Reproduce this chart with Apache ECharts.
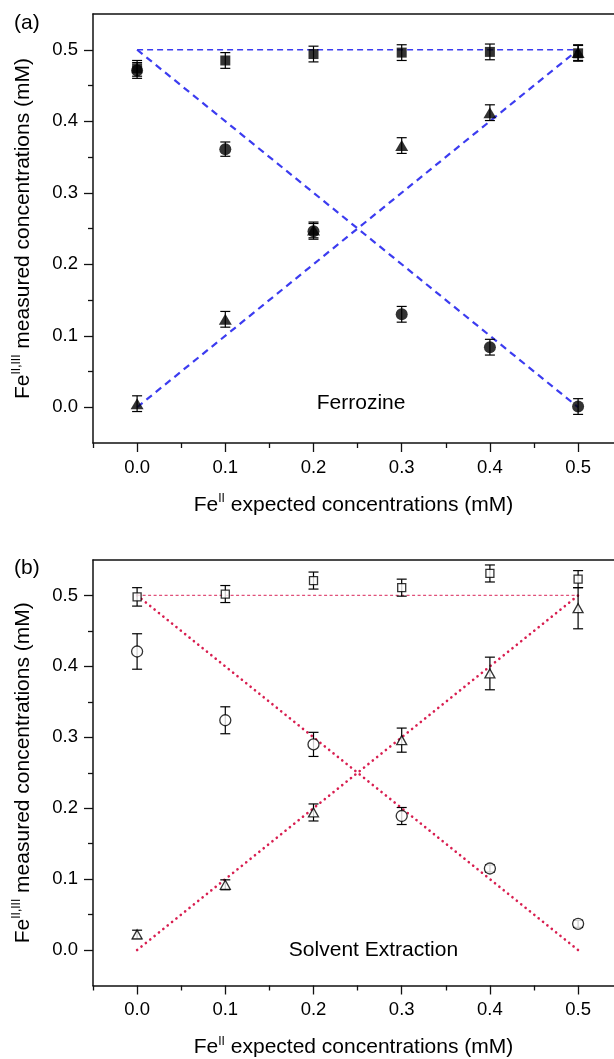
<!DOCTYPE html>
<html>
<head>
<meta charset="utf-8">
<script src="https://cdn.jsdelivr.net/npm/echarts@6/dist/echarts.min.js"></script>
<style>
html, body { margin: 0; padding: 0; background: #fff; }
#chart { width: 614px; height: 1059px; }
</style>
</head>
<body>
<div id="chart"></div>
<script>
// Fe(II) expected concentrations (mM)
var xVals = [0, 0.1, 0.2, 0.3, 0.4, 0.5];

// (a) Ferrozine - filled symbols
var ferroTotal = [0.474, 0.485, 0.494, 0.496, 0.497, 0.495];
var ferroTotalErr = [0.011, 0.011, 0.011, 0.011, 0.011, 0.011];
var ferroFe3 = [0.471, 0.361, 0.246, 0.130, 0.084, 0.001];
var ferroFe3Err = [0.011, 0.010, 0.011, 0.011, 0.011, 0.011];
var ferroFe2 = [0.005, 0.123, 0.248, 0.366, 0.412, 0.496];
var ferroFe2Err = [0.011, 0.011, 0.011, 0.011, 0.011, 0.011];

// (b) Solvent extraction - open symbols
var solvTotal = [0.498, 0.502, 0.521, 0.511, 0.531, 0.523];
var solvTotalErr = [0.013, 0.012, 0.012, 0.012, 0.012, 0.012];
var solvFe3 = [0.421, 0.324, 0.290, 0.189, 0.115, 0.037];
var solvFe3Err = [0.025, 0.019, 0.017, 0.012, 0.005, 0.005];
var solvFe2 = [0.022, 0.092, 0.194, 0.296, 0.390, 0.482];
var solvFe2Err = [0.006, 0.007, 0.012, 0.017, 0.023, 0.029];

// ideal lines
var idealTotal = [[0, 0.5], [0.5, 0.5]];
var idealFe3 = [[0, 0.5], [0.5, 0]];
var idealFe2 = [[0, 0], [0.5, 0.5]];

// tick values
var majorTicks = [0, 0.1, 0.2, 0.3, 0.4, 0.5];
var minorTicksX = [-0.05, 0.05, 0.15, 0.25, 0.35, 0.45];
var minorTicksY = [0.05, 0.15, 0.25, 0.35, 0.45];

var font = '"Liberation Sans", Arial, sans-serif';
var xMax = -0.05 + (614 - 93) / 882;

function pairs(xs, ys) {
    return xs.map(function (x, i) { return [x, ys[i]]; });
}
function errData(xs, ys, es) {
    return xs.map(function (x, i) { return [x, ys[i] - es[i], ys[i] + es[i]]; });
}
function renderErr(params, api) {
    var lo = api.coord([api.value(0), api.value(1)]);
    var hi = api.coord([api.value(0), api.value(2)]);
    var w = 5;
    var st = { stroke: '#000', lineWidth: 1.2 };
    return {
        type: 'group',
        children: [
            { type: 'line', shape: { x1: lo[0], y1: lo[1], x2: hi[0], y2: hi[1] }, style: st },
            { type: 'line', shape: { x1: lo[0] - w, y1: lo[1], x2: lo[0] + w, y2: lo[1] }, style: st },
            { type: 'line', shape: { x1: hi[0] - w, y1: hi[1], x2: hi[0] + w, y2: hi[1] }, style: st }
        ]
    };
}

var richName = {
    b: { fontSize: 21, fontFamily: font, color: '#000', lineHeight: 24, verticalAlign: 'middle' },
    s: { fontSize: 12, fontFamily: font, color: '#000', lineHeight: 13, verticalAlign: 'top' }
};
var axisLine = { onZero: false, lineStyle: { color: '#111', width: 1.5 } };
var tickStyle = { color: '#111', width: 1.3 };
var labelStyle = { fontSize: 18.5, fontFamily: font, color: '#000',
    formatter: function (v) { return v.toFixed(1); } };

function xAxisFor(gi) {
    return {
        gridIndex: gi, type: 'value', min: -0.05, max: xMax,
        name: '{b|Fe}{s|II}{b| expected concentrations (mM)}',
        nameLocation: 'middle', nameGap: 50,
        nameTextStyle: { rich: richName },
        axisLine: axisLine,
        axisTick: { show: true, length: 9, lineStyle: tickStyle, customValues: majorTicks },
        axisLabel: Object.assign({ margin: 15, customValues: majorTicks }, labelStyle),
        splitLine: { show: false }
    };
}
function xMinorFor(gi) {
    return {
        gridIndex: gi, type: 'value', position: 'bottom', min: -0.05, max: xMax,
        axisLine: { show: false, onZero: false },
        axisTick: { show: true, length: 5, lineStyle: tickStyle, customValues: minorTicksX },
        axisLabel: { show: false }, splitLine: { show: false }
    };
}
function topAxisFor(gi) {
    return {
        gridIndex: gi, type: 'value', position: 'top', min: -0.05, max: xMax,
        axisLine: axisLine, axisTick: { show: false }, axisLabel: { show: false },
        splitLine: { show: false }
    };
}
function yAxisFor(gi) {
    return {
        gridIndex: gi, type: 'value', position: 'left', min: -0.05, max: 0.55,
        name: '{b|Fe}{s|II,III}{b| measured concentrations (mM)}',
        nameLocation: 'middle', nameGap: 58, nameRotate: 90,
        nameTextStyle: { rich: richName },
        axisLine: axisLine,
        axisTick: { show: true, length: 9, lineStyle: tickStyle, customValues: majorTicks },
        axisLabel: Object.assign({ margin: 15, customValues: majorTicks }, labelStyle),
        splitLine: { show: false }
    };
}
function yMinorFor(gi) {
    return {
        gridIndex: gi, type: 'value', position: 'left', min: -0.05, max: 0.55,
        axisLine: { show: false, onZero: false },
        axisTick: { show: true, length: 5, lineStyle: tickStyle, customValues: minorTicksY },
        axisLabel: { show: false }, splitLine: { show: false }
    };
}
function refLine(gi, data, style) {
    return {
        type: 'line', xAxisIndex: gi * 3, yAxisIndex: gi * 2, data: data,
        symbol: 'none', silent: true, z: 2, lineStyle: style
    };
}
function errSeries(gi, ys, es) {
    return {
        type: 'custom', xAxisIndex: gi * 3, yAxisIndex: gi * 2, renderItem: renderErr,
        encode: { x: 0, y: [1, 2] }, data: errData(xVals, ys, es), z: 3, silent: true
    };
}
function dots(gi, ys, symbol, size, open) {
    return {
        type: 'scatter', xAxisIndex: gi * 3, yAxisIndex: gi * 2, data: pairs(xVals, ys),
        symbol: symbol, symbolSize: size, z: 5, silent: true,
        itemStyle: open ? { color: '#fff', borderColor: '#000', borderWidth: 1.3 } : { color: '#000' }
    };
}

var blueDash = { color: '#3c3cf0', width: 2.2, type: [7, 5] };
var blueThin = { color: '#3c3cf0', width: 1.6, type: [6, 4] };
var redDot = { color: '#d81e50', width: 2.6, type: [0.1, 5.5], cap: 'round' };
var redThin = { color: '#e0507a', width: 1.2, type: [3, 2.5] };

var chart = echarts.init(document.getElementById('chart'));
chart.setOption({
    animation: false,
    backgroundColor: '#fff',
    grid: [
        { left: 93, top: 14, right: 0, height: 429 },
        { left: 93, top: 560, right: 0, height: 430 }
    ],
    xAxis: [xAxisFor(0), xMinorFor(0), topAxisFor(0), xAxisFor(1), xMinorFor(1), topAxisFor(1)],
    yAxis: [yAxisFor(0), yMinorFor(0), yAxisFor(1), yMinorFor(1)],
    series: [
        refLine(0, idealTotal, blueThin),
        refLine(0, idealFe3, blueDash),
        refLine(0, idealFe2, blueDash),
        errSeries(0, ferroTotal, ferroTotalErr),
        errSeries(0, ferroFe3, ferroFe3Err),
        errSeries(0, ferroFe2, ferroFe2Err),
        dots(0, ferroTotal, 'rect', 10, false),
        dots(0, ferroFe3, 'circle', 12, false),
        dots(0, ferroFe2, 'triangle', [13, 11], false),

        refLine(1, idealTotal, redThin),
        refLine(1, idealFe3, redDot),
        refLine(1, idealFe2, redDot),
        errSeries(1, solvTotal, solvTotalErr),
        errSeries(1, solvFe3, solvFe3Err),
        errSeries(1, solvFe2, solvFe2Err),
        dots(1, solvTotal, 'rect', 8, true),
        dots(1, solvFe3, 'circle', 11, true),
        dots(1, solvFe2, 'triangle', [10, 9], true)
    ]
});

// panel labels
var pA = chart.convertToPixel({ gridIndex: 0 }, [0.254, 0.005]);
var pB = chart.convertToPixel({ gridIndex: 1 }, [0.268, 0.0]);
var txt = { fontSize: 21, fontFamily: font, fill: '#000' };
chart.setOption({
    graphic: [
        { type: 'text', left: 14, top: 13, style: Object.assign({ text: '(a)' }, txt) },
        { type: 'text', left: 14, top: 558, style: Object.assign({ text: '(b)' }, txt) },
        { type: 'text', x: pA[0], y: pA[1], style: Object.assign({ text: 'Ferrozine', align: 'center', verticalAlign: 'middle' }, txt) },
        { type: 'text', x: pB[0], y: pB[1], style: Object.assign({ text: 'Solvent Extraction', align: 'center', verticalAlign: 'middle' }, txt) }
    ]
});
</script>
</body>
</html>
